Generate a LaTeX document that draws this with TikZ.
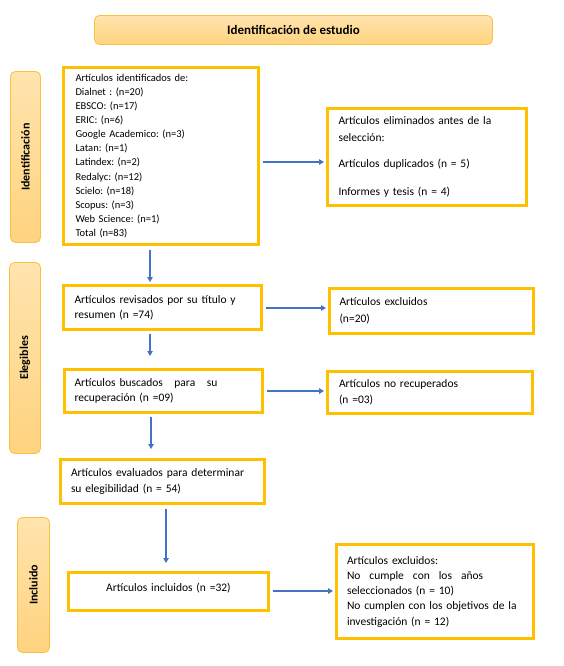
\documentclass[tikz,border=0pt]{standalone}
\usepackage{fontspec}
\setmainfont{Carlito}
\usetikzlibrary{arrows.meta}
\definecolor{gold}{HTML}{FFC000}
\definecolor{arrblue}{HTML}{4472C4}
\definecolor{lblA}{HTML}{FFE4AE}
\definecolor{lblB}{HTML}{FFD37F}
\definecolor{lblborder}{HTML}{F9C23C}
\frenchspacing
\begin{document}
\begin{tikzpicture}[x=1pt,y=-1pt,
  box/.style={draw=gold, line width=3pt, fill=white, inner ysep=0pt, align=left, font=\fontsize{11.5}{16}\selectfont},
  side/.style={draw=lblborder, line width=0.8pt, rounded corners=5pt, top color=lblA, bottom color=lblB, inner sep=0pt, rotate=90, font=\bfseries\fontsize{12}{14}\selectfont},
  titlebox/.style={draw=lblborder, line width=0.8pt, rounded corners=5pt, top color=lblA, bottom color=lblB, inner sep=0pt, font=\bfseries\fontsize{13}{15}\selectfont},
  arr/.style={draw=arrblue, line width=1.6pt, -{Triangle[length=5pt,width=5.5pt]}, shorten <=2.5pt, shorten >=2pt}]
\useasboundingbox (0,0) rectangle (563,666);
% title
\node[titlebox, minimum width=398pt, minimum height=29pt] (title) at (293.5,30) {Identificación de estudio};
% side labels
\node[side, minimum width=171pt, minimum height=30pt] (s1) at (25.5,157) {Identificación};
\node[side, minimum width=191pt, minimum height=31pt] (s2) at (25,358) {Elegibles};
\node[side, minimum width=135pt, minimum height=32pt] (s3) at (33.5,585) {Incluido};
% boxes
\node[box, font=\fontsize{10.5}{14.1}\selectfont, minimum width=195pt, minimum height=177pt, inner xsep=12pt, text width=171pt] (b1) at (161,156)
 {Artículos identificados de:\\ Dialnet : (n=20)\\ EBSCO: (n=17)\\ ERIC: (n=6)\\ Google Academico: (n=3)\\ Latan: (n=1)\\ Latindex: (n=2)\\ Redalyc: (n=12)\\ Scielo: (n=18)\\ Scopus: (n=3)\\ Web Science: (n=1)\\ Total (n=83)};
\node[box, font=\fontsize{11.5}{17}\selectfont, minimum width=199pt, minimum height=97pt, inner xsep=11pt, text width=177pt] (b2) at (427,157)
 {Artículos eliminados antes de la\\ selección:\\[9pt] Artículos duplicados (n = 5)\\[11pt] Informes y tesis (n = 4)};
\node[box, font=\fontsize{11.5}{15}\selectfont, minimum width=198pt, minimum height=44pt, inner xsep=11pt, text width=176pt] (b3) at (162.5,307.5)
 {Artículos revisados por su título y\\ resumen (n =74)};
\node[box, font=\fontsize{11.5}{17}\selectfont, minimum width=204pt, minimum height=45pt, inner xsep=10pt, text width=184pt] (b4) at (431.5,311)
 {Artículos excluidos\\ (n=20)};
\node[box, font=\fontsize{11.5}{15.5}\selectfont, minimum width=198pt, minimum height=43pt, inner xsep=10pt, text width=178pt] (b5) at (163.5,391)
 {Artículos buscados\hspace{11.5pt}para\hspace{11.5pt}su\\ recuperación (n =09)};
\node[box, font=\fontsize{11.5}{16}\selectfont, minimum width=205pt, minimum height=42pt, inner xsep=11.5pt, text width=182pt] (b6) at (430,392.5)
 {Artículos no recuperados\\ (n =03)};
\node[box, font=\fontsize{11.5}{16}\selectfont, minimum width=204pt, minimum height=44pt, inner xsep=10.5pt, text width=183pt] (b7) at (162.5,481.5)
 {Artículos evaluados para determinar\\ su elegibilidad (n = 54)};
\node[box, align=center, minimum width=200pt, minimum height=38pt, inner xsep=10pt, text width=180pt] (b8) at (168.5,591.5)
 {\raisebox{3pt}[8.5pt][2.5pt]{Artículos incluidos (n =32)}};
\node[box, font=\fontsize{11.5}{15.25}\selectfont, minimum width=197pt, minimum height=94pt, inner xsep=10.5pt, text width=176pt] (b9) at (435,591.5)
 {Artículos excluidos:\\ No\hspace{9pt}cumple\hspace{9pt}con\hspace{9pt}los\hspace{9pt}años\\ seleccionados (n = 10)\\ No cumplen con los objetivos de la\\ investigación (n = 12)};
% connectors
\draw[arr] ([yshift=-6pt]b1.east) -- ([yshift=-6pt]b1.east -| b2.west);
\draw[arr, shorten <=4pt] ([xshift=-11pt]b1.south) -- ([xshift=-11pt]b1.south |- b3.north);
\draw[arr] ([yshift=-0.5pt]b3.east) -- ([yshift=-0.5pt]b3.east -| b4.west);
\draw[arr, shorten >=12pt] ([xshift=-12.5pt]b3.south) -- ([xshift=-12.5pt]b3.south |- b5.north);
\draw[arr] (b5.east) -- (b5.east -| b6.west);
\draw[arr, shorten >=9pt] ([xshift=-12.5pt]b5.south) -- ([xshift=-12.5pt]b5.south |- b7.north);
\draw[arr, shorten <=4pt, shorten >=8pt] ([xshift=3.5pt]b7.south) -- ([xshift=3.5pt]b7.south |- b8.north);
\draw[arr] ([yshift=0.5pt]b8.east) -- ([yshift=0.5pt]b8.east -| b9.west);
\end{tikzpicture}
\end{document}
